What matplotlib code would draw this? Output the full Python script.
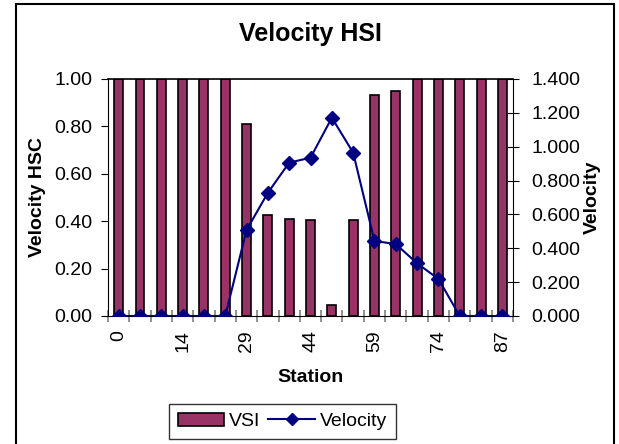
import matplotlib
matplotlib.use("Agg")
import matplotlib.pyplot as plt
from matplotlib.patches import Rectangle
from matplotlib.ticker import FixedLocator, FormatStrFormatter

plt.rcParams['font.family'] = ['Liberation Sans', 'DejaVu Sans']

# donnees
stations = [0, 5, 10, 14, 19, 24, 29, 34, 39, 44, 49, 54, 59, 64, 69, 74, 79, 84, 87]
vsi = [1.0, 1.0, 1.0, 1.0, 1.0, 1.0, 0.81, 0.425, 0.41, 0.405, 0.046, 0.405,
       0.932, 0.951, 1.0, 1.0, 1.0, 1.0, 1.0]
velocity = [0, 0, 0, 0, 0, 0, 0.508, 0.728, 0.906, 0.935, 1.171, 0.965,
            0.443, 0.425, 0.311, 0.219, 0, 0, 0]

x = list(range(len(stations)))

fig = plt.figure(figsize=(6.19, 4.44), dpi=100)
ax = fig.add_axes([0.1745, 0.2883, 0.6543, 0.5338])
ax2 = ax.twinx()

barres = ax.bar(x, vsi, width=0.42, color='#993366', edgecolor='black', linewidth=1.2, label='VSI', zorder=2)
ligne, = ax2.plot(x, velocity, color='#000080', marker='D', markersize=7.5, linewidth=1.5, label='Velocity')

ax.set_xlim(-0.5, len(x) - 0.5)
ax.set_ylim(0, 1.0)
ax2.set_ylim(0, 1.4)

# axe x : etiquettes toutes les 3 stations, traits entre les categories
ax.set_xticks(x[::3])
ax.set_xticklabels([str(s) for s in stations[::3]], rotation=90, fontsize=14)
ax.tick_params(axis='x', which='major', length=0, pad=10)
ax.xaxis.set_minor_locator(FixedLocator([i - 0.5 for i in range(len(x) + 1)]))
ax.tick_params(axis='x', which='minor', direction='inout', length=8, color='#808080', width=1.2)

ax.set_yticks([0, 0.2, 0.4, 0.6, 0.8, 1.0])
ax.yaxis.set_major_formatter(FormatStrFormatter('%.2f'))
ax.tick_params(axis='y', direction='out', length=5, labelsize=14, pad=6)

ax2.set_yticks([0, 0.2, 0.4, 0.6, 0.8, 1.0, 1.2, 1.4])
ax2.yaxis.set_major_formatter(FormatStrFormatter('%.3f'))
ax2.tick_params(axis='y', direction='inout', length=8, labelsize=14, pad=9)

for a in (ax, ax2):
    for s in a.spines.values():
        s.set_visible(False)
ax.spines['left'].set_visible(True)
ax.spines['bottom'].set_visible(True)
ax2.spines['right'].set_visible(True)
ax.plot([-0.5, len(x) - 0.5], [1.0, 1.0], color='black', linewidth=1.2, clip_on=False, zorder=3)

ax.set_xlabel('Station', fontsize=14, fontweight='bold', labelpad=12)
ax.set_ylabel('Velocity HSC', fontsize=14, fontweight='bold', labelpad=6)
ax2.set_ylabel('Velocity', fontsize=14, fontweight='bold', labelpad=3)
ax.set_title('Velocity HSI', fontsize=18, fontweight='bold', pad=27)

leg = fig.legend([barres, ligne], ['VSI', 'Velocity'], loc='center', bbox_to_anchor=(0.456, 0.051),
                 ncol=2, fontsize=14, frameon=True, fancybox=False, edgecolor='black',
                 handlelength=2.4, columnspacing=0.4, handletextpad=0.25, borderpad=0.45,
                 markerscale=0.75)
leg.get_frame().set_linewidth(1.0)

# cadre autour du graphique
fig.patches.append(Rectangle((16 / 619, -0.05), (614 - 16) / 619, 1.05 - 4 / 444,
                             transform=fig.transFigure, fill=False, edgecolor='black', linewidth=1.5))

fig.savefig('out.png', dpi=100)
